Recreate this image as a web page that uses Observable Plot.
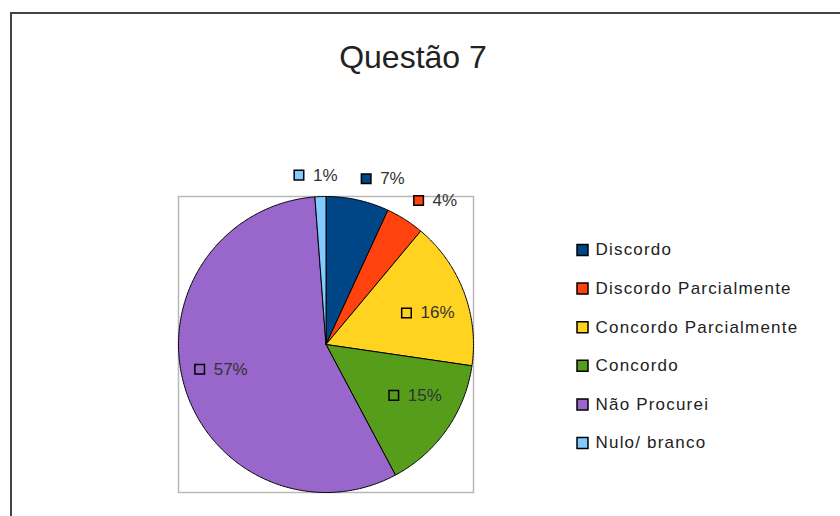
<!DOCTYPE html>
<html><head><meta charset="utf-8">
<script src="https://cdn.jsdelivr.net/npm/d3@7"></script>
<script src="https://cdn.jsdelivr.net/npm/@observablehq/plot@0.6"></script>
<style>
html,body{margin:0;padding:0;background:#fff;overflow:hidden;width:840px;height:516px}
#chart{position:absolute;left:0;top:0}
#border{position:absolute;left:10px;top:12px;width:900px;height:600px;border-left:2px solid #444;border-top:2px solid #444;pointer-events:none}
</style></head>
<body><div id="chart"></div><div id="border"></div>
<script>
const title = "Questão 7";
const categories = ["Discordo","Discordo Parcialmente","Concordo Parcialmente","Concordo","Não Procurei","Nulo/ branco"];
const values = [6.9, 4.2, 16.2, 14.9, 56.6, 1.2];
const colors = ["#004586","#ff420e","#ffd320","#579d1c","#9966cc","#83caff"];

const W = 840, H = 516;
const M = {left:178, right:367, top:196, bottom:24};
const pw = W - M.left - M.right, ph = H - M.top - M.bottom;
const R = pw / 2;
const cx = M.left + pw / 2, cy = M.top + ph / 2;
const px2x = px => (px - M.left) / pw * 2 - 1;
const py2y = py => 1 - (py - M.top) / ph * 2;

const total = d3.sum(values);
const arcs = d3.pie().sort(null).value(d => d)(values);

// slice outlines in data units
const slicePts = [];
arcs.forEach((a, i) => {
  const key = categories[i];
  slicePts.push({key, x: 0, y: 0});
  const n = Math.max(2, Math.ceil((a.endAngle - a.startAngle) / 0.01));
  for (let k = 0; k <= n; k++) {
    const t = a.startAngle + (a.endAngle - a.startAngle) * k / n;
    slicePts.push({key, x: Math.sin(t), y: Math.cos(t)});
  }
  slicePts.push({key, x: 0, y: 0});
});

const FONT = "'Liberation Sans', Arial, sans-serif";
const ctx = document.createElement("canvas").getContext("2d");
ctx.font = "17px " + FONT;
const pct = v => Math.round(v / total * 100) + "%";
const clamp = v => Math.max(-1, Math.min(1, v));

const labelRows = arcs.map((a, i) => {
  const mid = (a.startAngle + a.endAngle) / 2, s = Math.sin(mid), c = Math.cos(mid);
  const text = pct(values[i]);
  const tw = ctx.measureText(text).width;
  const w = 10 + 9 + tw, h = 12;
  let bx, by;
  if (values[i] / total >= 0.1) {
    bx = cx + s * R * 0.74; by = cy - c * R * 0.6;
  } else {
    const r = R + 16;
    const ax = cx + s * r, ay = cy - c * r;
    bx = ax + clamp(s / 0.2) * w / 2;
    by = ay - clamp(c / 0.2) * h / 2;
  }
  const left = bx - w / 2;
  return {key: categories[i], text, sx: px2x(left + 5), tx: px2x(left + 19), y: py2y(by)};
});

const legendRows = categories.map((k, i) => ({
  key: k,
  sx: px2x(582), tx: px2x(595),
  y: py2y(249.5 + i * 38.6)
}));

const titleRow = [{text: title, x: px2x(412.5), y: py2y(57.5)}];

const chart = Plot.plot({
  width: W, height: H,
  marginLeft: M.left, marginRight: M.right, marginTop: M.top, marginBottom: M.bottom,
  x: {domain: [-1, 1], axis: null},
  y: {domain: [-1, 1], axis: null},
  color: {domain: categories, range: colors},
  style: {fontFamily: FONT, background: "white", overflow: "visible"},
  marks: [
    Plot.frame({stroke: "#b8b8b8", strokeWidth: 1.5}),
    Plot.line(slicePts, {x: "x", y: "y", z: "key", fill: "key", stroke: "black", strokeWidth: 1, strokeLinejoin: "round"}),
    Plot.dot(labelRows, {x: "sx", y: "y", symbol: "square", r: 5.4, fill: "key", stroke: "black", strokeWidth: 1.5}),
    Plot.text(labelRows, {x: "tx", y: "y", text: "text", textAnchor: "start", fontSize: 17, fill: "#333"}),
    Plot.dot(legendRows, {x: "sx", y: "y", symbol: "square", r: 6.2, fill: "key", stroke: "black", strokeWidth: 1.5}),
    Plot.text(legendRows, {x: "tx", y: "y", text: "key", textAnchor: "start", fontSize: 17, fill: "#222", ariaDescription: "legend"}),
    Plot.text(titleRow, {x: "x", y: "y", text: "text", textAnchor: "middle", fontSize: 32, fill: "#222"})
  ]
});
d3.select(chart).selectAll("g[aria-description=legend] text").style("letter-spacing", "1.2px");
document.getElementById("chart").appendChild(chart);
</script>
</body></html>
